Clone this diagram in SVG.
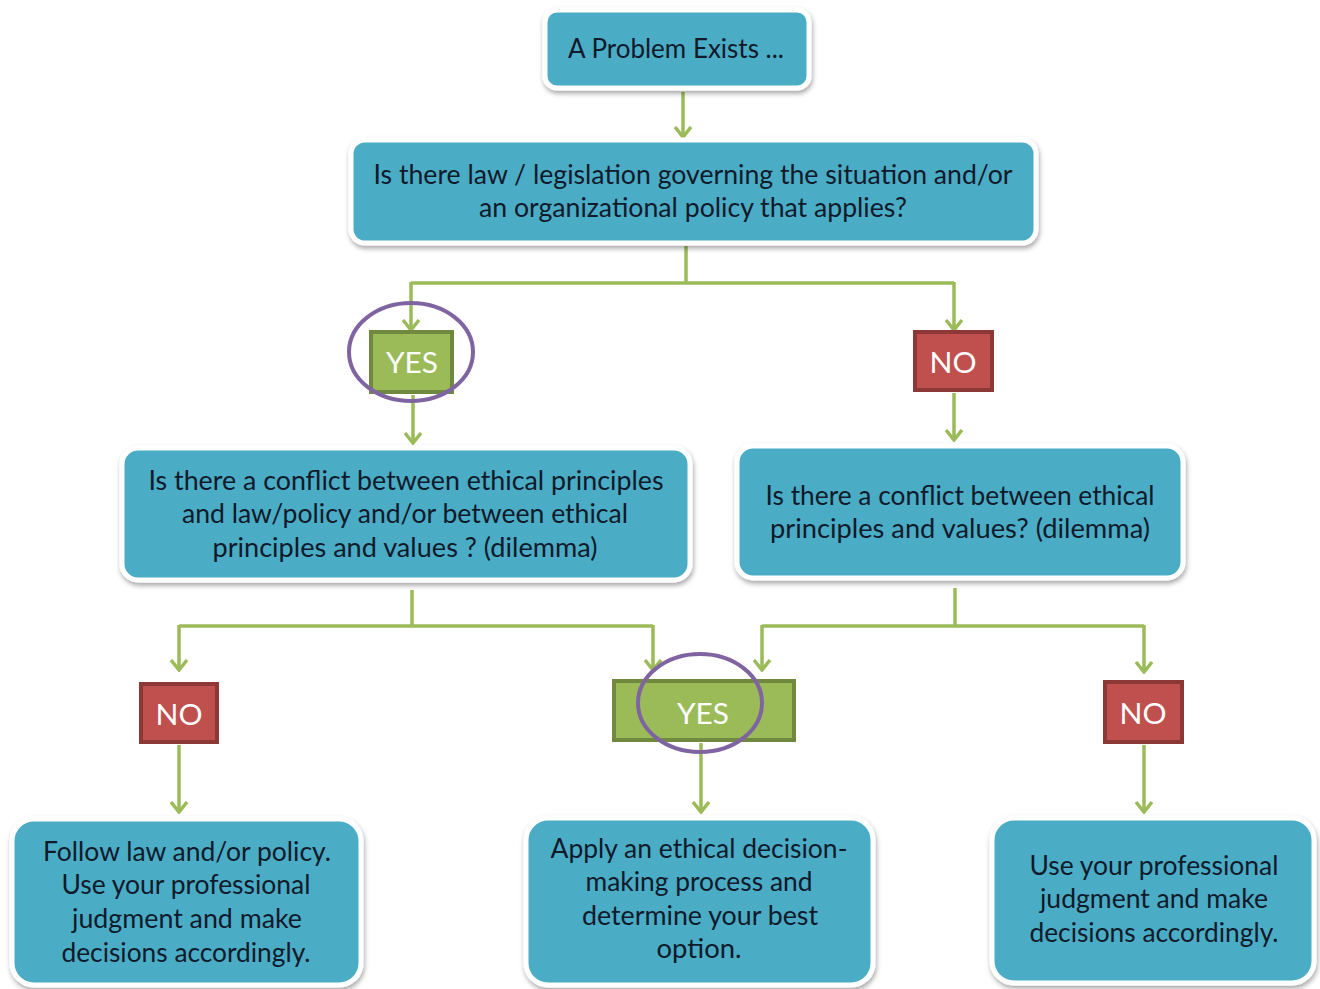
<svg xmlns="http://www.w3.org/2000/svg" width="1320" height="989" viewBox="0 0 1320 989">
<style>
.box{fill:#4BACC6;stroke:#ffffff;stroke-width:5;filter:url(#sh)}
.t{font-family:Lato,"Open Sans","Liberation Sans",sans-serif;font-size:26px;fill:#0f1a2a;text-anchor:middle}
.lbl{font-family:Lato,"Open Sans","Liberation Sans",sans-serif;font-size:29px;fill:#ffffff;text-anchor:middle}
.yes{fill:#9BBB59;stroke:#71893F;stroke-width:4}
.no{fill:#C0504D;stroke:#8C3836;stroke-width:4}
.ring{fill:none;stroke:#8064A2;stroke-width:4}
.c{fill:none;stroke:#9BBB59;stroke-width:3.5}
.a{fill:none;stroke:#9BBB59;stroke-width:3.5;marker-end:url(#ah)}
</style>
<defs>
<filter id="sh" x="-10%" y="-10%" width="120%" height="130%">
<feDropShadow dx="1" dy="3" stdDeviation="2.5" flood-color="#000" flood-opacity="0.35"/>
</filter>
<marker id="ah" viewBox="0 0 20 20" refX="18" refY="10" markerWidth="20" markerHeight="20" markerUnits="userSpaceOnUse" orient="auto">
<polyline points="8,2 18,10 8,18" fill="none" stroke="#9BBB59" stroke-width="3.5" stroke-linejoin="miter"/>
</marker>
</defs>
<rect width="1320" height="989" fill="#ffffff"/>
<g id="connectors">
<path class="a" d="M683 92 V137"/>
<path class="c" d="M686 246 V283 M411 283 H954"/>
<path class="a" d="M411 282 V330"/>
<path class="a" d="M954 282 V330"/>
<path class="a" d="M413 395 V443"/>
<path class="a" d="M954 393 V440"/>
<path class="c" d="M412 590 V626 M179 626 H653"/>
<path class="a" d="M179 625 V670"/>
<path class="a" d="M653 625 V670"/>
<path class="c" d="M955 588 V626 M762 626 H1144"/>
<path class="a" d="M762 625 V670"/>
<path class="a" d="M1144 625 V672"/>
<path class="a" d="M179 745 V812"/>
<path class="a" d="M701 743 V812"/>
<path class="a" d="M1144 745 V812"/>
</g>
<g id="n-problem">
<rect class="box" x="545" y="10" width="264" height="78" rx="12"/>
<text class="t" x="676" y="58" textLength="216" lengthAdjust="spacingAndGlyphs">A Problem Exists ...</text>
</g>
<g id="n-law">
<rect class="box" x="351" y="140" width="685" height="103" rx="14"/>
<text class="t" x="693" y="184" textLength="639" lengthAdjust="spacingAndGlyphs">Is there law / legislation governing the situation  and/or</text>
<text class="t" x="693" y="217" textLength="428" lengthAdjust="spacingAndGlyphs">an organizational policy that applies?</text>
</g>
<g id="n-yes1">
<rect class="yes" x="371" y="332" width="81" height="60"/>
<text class="lbl" x="412" y="373" textLength="52" lengthAdjust="spacingAndGlyphs">YES</text>
<ellipse class="ring" cx="411" cy="352" rx="62" ry="49"/>
</g>
<g id="n-no1">
<rect class="no" x="915" y="332" width="77" height="58"/>
<text class="lbl" x="953" y="373" textLength="47" lengthAdjust="spacingAndGlyphs">NO</text>
</g>
<g id="n-conflict-left">
<rect class="box" x="122" y="448" width="568" height="132" rx="16"/>
<text class="t" x="406" y="490" textLength="515" lengthAdjust="spacingAndGlyphs">Is there a conflict between ethical  principles</text>
<text class="t" x="405" y="523" textLength="446" lengthAdjust="spacingAndGlyphs">and law/policy and/or between ethical</text>
<text class="t" x="405" y="557" textLength="385" lengthAdjust="spacingAndGlyphs">principles and values ? (dilemma)</text>
</g>
<g id="n-conflict-right">
<rect class="box" x="737" y="446" width="446" height="132" rx="16"/>
<text class="t" x="960" y="505" textLength="389" lengthAdjust="spacingAndGlyphs">Is there a conflict between ethical</text>
<text class="t" x="960" y="538" textLength="380" lengthAdjust="spacingAndGlyphs">principles and values? (dilemma)</text>
</g>
<g id="n-no2">
<rect class="no" x="141" y="684" width="76" height="58"/>
<text class="lbl" x="179" y="725" textLength="47" lengthAdjust="spacingAndGlyphs">NO</text>
</g>
<g id="n-yes2">
<rect class="yes" x="614" y="681" width="180" height="59"/>
<text class="lbl" x="703" y="724" textLength="52" lengthAdjust="spacingAndGlyphs">YES</text>
<ellipse class="ring" cx="700" cy="703" rx="62" ry="49"/>
</g>
<g id="n-no3">
<rect class="no" x="1105" y="682" width="77" height="60"/>
<text class="lbl" x="1143" y="724" textLength="47" lengthAdjust="spacingAndGlyphs">NO</text>
</g>
<g id="n-follow">
<rect class="box" x="12" y="819" width="349" height="166" rx="22"/>
<text class="t" x="187" y="861" textLength="288" lengthAdjust="spacingAndGlyphs">Follow law and/or policy.</text>
<text class="t" x="186" y="894" textLength="249" lengthAdjust="spacingAndGlyphs">Use your professional</text>
<text class="t" x="187" y="928" textLength="230" lengthAdjust="spacingAndGlyphs">judgment and make</text>
<text class="t" x="186" y="962" textLength="249" lengthAdjust="spacingAndGlyphs">decisions accordingly.</text>
</g>
<g id="n-apply">
<rect class="box" x="526" y="818" width="347" height="167" rx="22"/>
<text class="t" x="699" y="858" textLength="297" lengthAdjust="spacingAndGlyphs">Apply an ethical decision-</text>
<text class="t" x="699" y="891" textLength="227" lengthAdjust="spacingAndGlyphs">making process and</text>
<text class="t" x="700" y="925" textLength="236" lengthAdjust="spacingAndGlyphs">determine your best</text>
<text class="t" x="699" y="958" textLength="85" lengthAdjust="spacingAndGlyphs">option.</text>
</g>
<g id="n-judgment">
<rect class="box" x="992" y="818" width="322" height="165" rx="22"/>
<text class="t" x="1154" y="875" textLength="249" lengthAdjust="spacingAndGlyphs">Use your professional</text>
<text class="t" x="1154" y="908" textLength="228" lengthAdjust="spacingAndGlyphs">judgment and make</text>
<text class="t" x="1154" y="942" textLength="249" lengthAdjust="spacingAndGlyphs">decisions accordingly.</text>
</g>
</svg>
